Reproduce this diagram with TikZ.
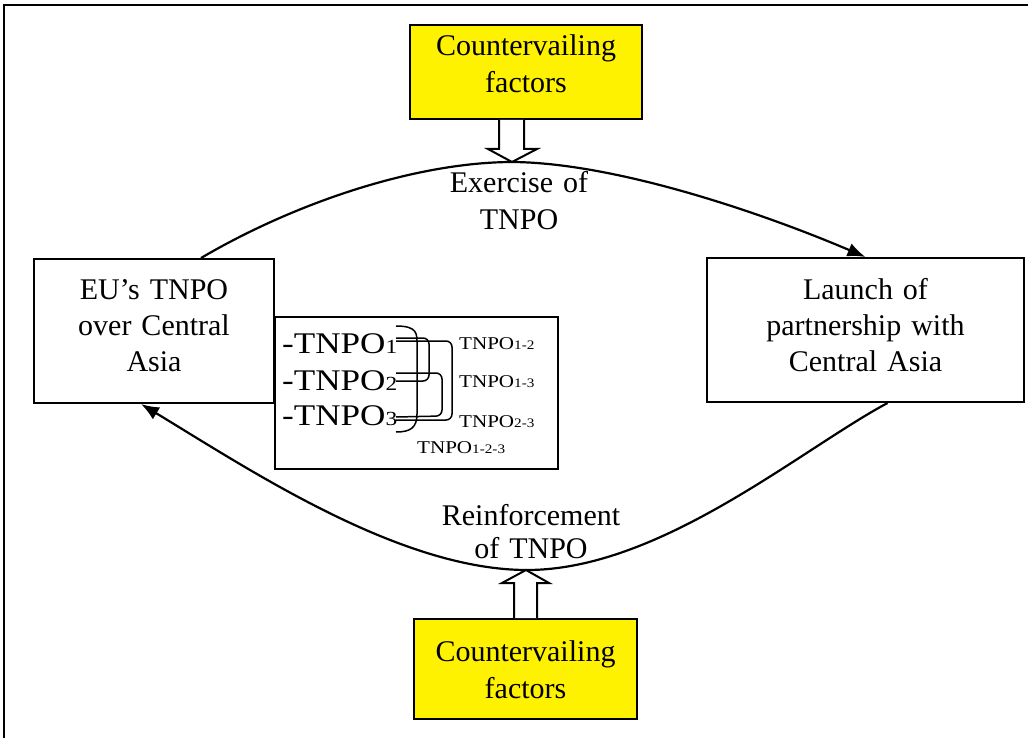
\documentclass[tikz,border=0pt]{standalone}
\usepackage{fontspec}
\usepackage{graphicx}
\setmainfont{Liberation Serif}
\usetikzlibrary{arrows.meta}
\newcommand\bsub[1]{{\fontsize{20}{20}\selectfont #1}}
\newcommand\ssub[1]{{\fontsize{13}{13}\selectfont #1}}
\newcommand\wide[1]{\scalebox{1.17}[1]{#1}}
\begin{document}
\begin{tikzpicture}[x=1pt,y=-1pt,
  box/.style={draw, line width=2pt, inner sep=0pt, align=center, anchor=north west, font=\fontsize{30}{36}\selectfont},
  yel/.style={box, fill=yellow, font=\fontsize{30}{37}\selectfont},
  conn/.style={line width=2.2pt, -{Latex[length=18pt,width=14pt]}},
  lbl/.style={inner sep=0pt, align=center, text width=260pt, anchor=base, font=\fontsize{30}{37}\selectfont},
  big/.style={inner sep=0pt, anchor=base west, font=\fontsize{30}{30}\selectfont},
  small/.style={inner sep=0pt, anchor=base west, font=\fontsize{18}{18}\selectfont},
  brk/.style={line width=1.5pt, rounded corners=6pt},
  blk/.style={draw, line width=2pt, fill=white, line join=miter}]
\useasboundingbox (0,0) rectangle (1028,738);
% frame
\draw[line width=2pt] (1028,5) -- (4,5) -- (4,738);
% boxes
\node[yel, text width=232pt, text height=31pt, text depth=63pt] (topf) at (409,24) {Countervailing\\factors};
\node[yel, text width=223pt, text height=42pt, text depth=58pt] (botf) at (413,618) {Countervailing\\factors};
\node[box, text width=240pt, text height=40pt, text depth=104pt] (eu) at (33,258) {EU’s TNPO\\over Central\\Asia};
\node[box, text width=317pt, text height=41pt, text depth=103pt] (launch) at (706,257) {Launch of\\partnership with\\Central Asia};
\node[box, minimum width=283pt, minimum height=152pt] (tb) at (274,316) {};
% labels
\node[lbl] (ex) at (519,193) {Exercise of\\TNPO};
\node[lbl, font=\fontsize{30}{33}\selectfont] (re) at (531,525) {Reinforcement\\of TNPO};
% central box content
\node[big] (t1) at (282,353) {\wide{-TNPO\bsub{1}}};
\node[big] (t2) at (282,390) {\wide{-TNPO\bsub{2}}};
\node[big] (t3) at (282,425) {\wide{-TNPO\bsub{3}}};
\node[small] (l12) at (459,349) {\wide{TNPO\ssub{1-2}}};
\node[small] (l13) at (459,387) {\wide{TNPO\ssub{1-3}}};
\node[small] (l23) at (459,427) {\wide{TNPO\ssub{2-3}}};
\node[small] (l123) at (417,453) {\wide{TNPO\ssub{1-2-3}}};
% brackets
\draw[line width=1.5pt] (396,326) .. controls (418,326) and (417,334) .. (417,345) -- (417,414) .. controls (417,428) and (410,432) .. (396,432);
\draw[brk] (396,338) -- (429,338) -- (429,381) -- (396,381);
\draw[brk] (396,341) -- (452,341) -- (452,420) -- (396,420);
\draw[brk] (396,373) -- (442,373) -- (442,416) -- (396,417);
% curves
\draw[conn] ([xshift=47pt]eu.north) .. controls (300,200) and (420,162) .. (513,162) .. controls (615,163) and (760,212) .. (launch.north);
\draw[conn] ([xshift=22pt]launch.south) .. controls (800,450) and (660,570) .. (527,570) .. controls (400,570) and (250,470) .. ([xshift=-13pt]eu.south);
% block arrows
\draw[blk] (topf.south -| 499,0) -- (499,149) -- (488,149) -- (512,162) -- (537,149) -- (524,149) -- (topf.south -| 524,0);
\draw[blk] (botf.north -| 514,0) -- (514,583) -- (502,583) -- (526,570) -- (549,583) -- (537,583) -- (botf.north -| 537,0);
\end{tikzpicture}
\end{document}
